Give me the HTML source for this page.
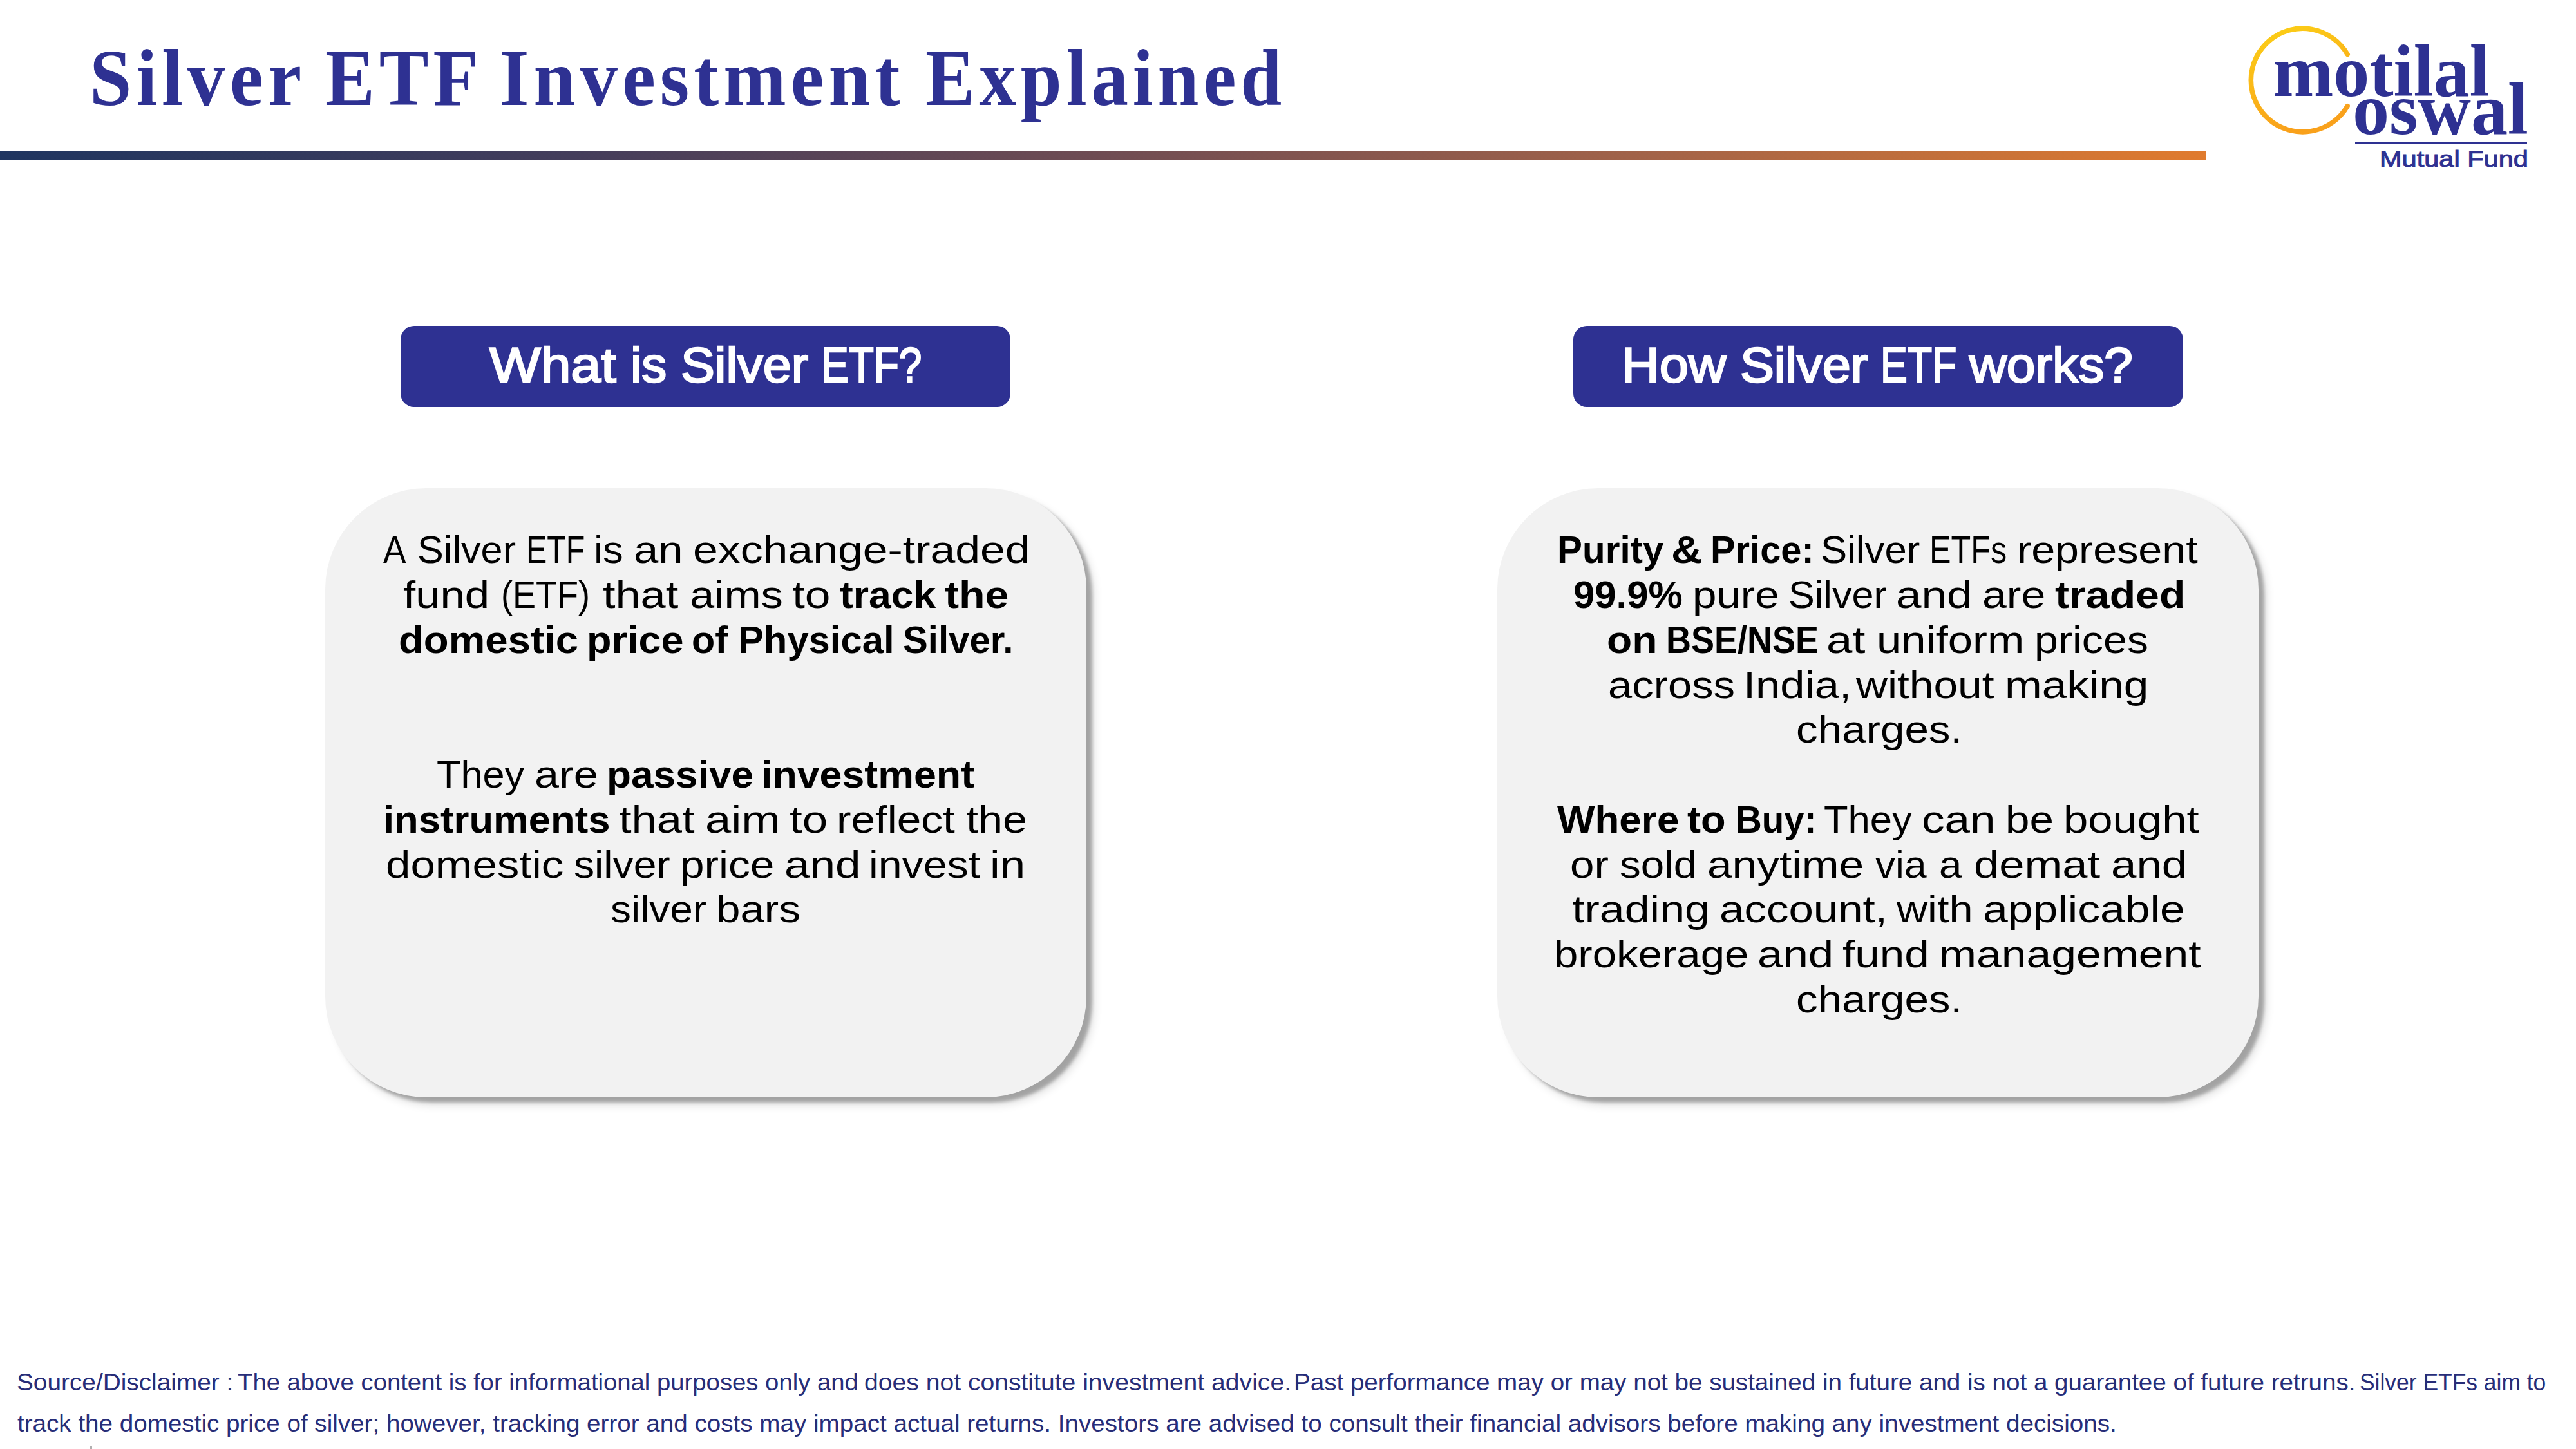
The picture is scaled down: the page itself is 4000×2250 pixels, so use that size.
<!DOCTYPE html>
<html lang="en"><head><meta charset="utf-8"><title>Silver ETF Investment Explained</title>
<style>
html,body{margin:0;padding:0;background:#fff}
h1,h2,p,header,main,section,footer{margin:0;padding:0;font:inherit}
body{width:4000px;height:2250px;position:relative;overflow:hidden;font-family:"Liberation Sans",sans-serif;color:#000}
.t{position:absolute;margin:0;padding:0;white-space:nowrap;transform-origin:0 0;font-weight:400}
.body{font-size:60px;line-height:72px;letter-spacing:0px}
.bbody{font-size:60px;line-height:72px;letter-spacing:0px}
.pill{font-size:76.5px;line-height:92px;letter-spacing:0px}
.title{font-size:125px;line-height:150px;letter-spacing:7.5px}
.foot{font-size:36.5px;line-height:44px;letter-spacing:0px}
.logo{font-size:114px;line-height:137px;letter-spacing:0px}
.mf{font-size:35.5px;line-height:43px;letter-spacing:0px}
.bbody{font-weight:700}
.pill{color:#fff;-webkit-text-stroke:2.4px #fff}
.title{font-family:"Liberation Serif",serif;font-weight:700;color:#2e3192}
.foot{color:#272d78}
.logo{font-family:"Liberation Serif",serif;font-weight:700;color:#2e3192}
.mf{color:#2e3192;-webkit-text-stroke:1px #2e3192}
.rule{position:absolute;left:0;top:235px;width:3425px;height:14px;background:linear-gradient(90deg,rgb(31,53,96) 0%,rgb(68,61,91) 26%,rgb(111,76,83) 50%,rgb(163,99,72) 75%,rgb(224,123,46) 100%)}
.pillbox{position:absolute;top:505.6px;height:126px;width:947px;border-radius:21px;background:#2e3192}
.card{position:absolute;top:758px;height:946px;width:1182px;border-radius:157px;background:#f2f2f2;box-shadow:9px 8px 5px rgba(0,0,0,.27),12px 12px 14px rgba(0,0,0,.13)}
.mfline{position:absolute;left:3656.8px;top:219.9px;width:267.2px;height:3.7px;background:#2e3192}
svg.ring{position:absolute;left:0;top:0}
</style></head><body>
<div class="rule"></div>
<svg class="ring" width="4000" height="300" viewBox="0 0 4000 300"><defs><linearGradient id="g" x1="0" y1="0" x2="0.35" y2="1"><stop offset="0" stop-color="#fcd116"/><stop offset="1" stop-color="#f9a11b"/></linearGradient></defs><path d="M3645.14 84.35 A80.3 80.3 0 1 0 3645.14 164.65" fill="none" stroke="url(#g)" stroke-width="7.6" stroke-linecap="round"/></svg>
<div class="mfline"></div>
<div style="position:absolute;left:140px;top:2246px;width:3px;height:4px;background:#b0b0b0"></div>
<div class="pillbox" style="left:622.4px"></div>
<div class="pillbox" style="left:2442.6px"></div>
<div class="card" style="left:505px"></div>
<div class="card" style="left:2325px"></div>
<header>
<h1>
<span class="t title" id="t1" style="left:139.00px;top:46.31px;transform:scaleX(0.9403)">Silver</span>
<span class="t title" id="t2" style="left:505.00px;top:46.31px;transform:scaleX(0.9220)">ETF</span>
<span class="t title" id="t3" style="left:776.00px;top:46.31px;transform:scaleX(0.9348)">Investment</span>
<span class="t title" id="t4" style="left:1437.00px;top:46.31px;transform:scaleX(0.9191)">Explained</span>
</h1>
<div class="brand">
<span class="t logo" id="lg1" style="left:3529.60px;top:42.22px;transform:scaleX(0.9826)">motilal</span>
<span class="t logo" id="lg2" style="left:3653.30px;top:100.72px;transform:scaleX(1.0016)">oswal</span>
<span class="t mf" id="lg3" style="left:3694.60px;top:226.10px;transform:scaleX(1.1702)">Mutual Fund</span>
</div>
</header>
<main>
<section>
<h2>
<span class="t pill" id="p1a" style="left:760.10px;top:520.69px;transform:scaleX(1.1012)">What</span>
<span class="t pill" id="p1b" style="left:978.50px;top:520.69px;transform:scaleX(1.0208)">is</span>
<span class="t pill" id="p1c" style="left:1056.70px;top:520.69px;transform:scaleX(1.0358)">Silver</span>
<span class="t pill" id="p1d" style="left:1274.80px;top:520.69px;transform:scaleX(0.8365)">ETF?</span>
</h2>
<p>
<span class="t body" id="c1l0w0" style="left:594.70px;top:818.41px;transform:scaleX(0.8856)">A</span>
<span class="t body" id="c1l0w1" style="left:648.30px;top:818.41px;transform:scaleX(1.0200)">Silver</span>
<span class="t body" id="c1l0w2" style="left:816.70px;top:818.41px;transform:scaleX(0.8064)">ETF</span>
<span class="t body" id="c1l0w3" style="left:922.30px;top:818.41px;transform:scaleX(1.0561)">is</span>
<span class="t body" id="c1l0w4" style="left:983.90px;top:818.41px;transform:scaleX(1.1469)">an</span>
<span class="t body" id="c1l0w5" style="left:1076.30px;top:818.41px;transform:scaleX(1.1627)">exchange-traded</span>
<span class="t body" id="c1l1w0" style="left:625.50px;top:888.16px;transform:scaleX(1.1473)">fund</span>
<span class="t body" id="c1l1w1" style="left:778.10px;top:888.16px;transform:scaleX(0.9001)">(ETF)</span>
<span class="t body" id="c1l1w2" style="left:935.80px;top:888.16px;transform:scaleX(1.1715)">that</span>
<span class="t body" id="c1l1w3" style="left:1070.50px;top:888.16px;transform:scaleX(1.1438)">aims</span>
<span class="t body" id="c1l1w4" style="left:1230.30px;top:888.16px;transform:scaleX(1.1909)">to</span>
<span class="t bbody" id="c1l1w5" style="left:1304.10px;top:888.16px;transform:scaleX(1.0402)">track</span>
<span class="t bbody" id="c1l1w6" style="left:1466.60px;top:888.16px;transform:scaleX(1.1051)">the</span>
<span class="t bbody" id="c1l2w0" style="left:619.30px;top:957.91px;transform:scaleX(1.0595)">domestic</span>
<span class="t bbody" id="c1l2w1" style="left:911.00px;top:957.91px;transform:scaleX(1.0498)">price</span>
<span class="t bbody" id="c1l2w2" style="left:1074.00px;top:957.91px;transform:scaleX(0.9876)">of</span>
<span class="t bbody" id="c1l2w3" style="left:1145.70px;top:957.91px;transform:scaleX(0.9962)">Physical</span>
<span class="t bbody" id="c1l2w4" style="left:1401.60px;top:957.91px;transform:scaleX(0.9690)">Silver.</span>
</p>
<p>
<span class="t body" id="c1l5w0" style="left:678.00px;top:1167.16px;transform:scaleX(1.0204)">They</span>
<span class="t body" id="c1l5w1" style="left:830.40px;top:1167.16px;transform:scaleX(1.1391)">are</span>
<span class="t bbody" id="c1l5w2" style="left:941.60px;top:1167.16px;transform:scaleX(1.0356)">passive</span>
<span class="t bbody" id="c1l5w3" style="left:1181.60px;top:1167.16px;transform:scaleX(1.0451)">investment</span>
<span class="t bbody" id="c1l6w0" style="left:594.80px;top:1236.91px;transform:scaleX(1.0263)">instruments</span>
<span class="t body" id="c1l6w1" style="left:961.00px;top:1236.91px;transform:scaleX(1.1757)">that</span>
<span class="t body" id="c1l6w2" style="left:1095.10px;top:1236.91px;transform:scaleX(1.2070)">aim</span>
<span class="t body" id="c1l6w3" style="left:1225.90px;top:1236.91px;transform:scaleX(1.1815)">to</span>
<span class="t body" id="c1l6w4" style="left:1299.40px;top:1236.91px;transform:scaleX(1.1254)">reflect</span>
<span class="t body" id="c1l6w5" style="left:1500.10px;top:1236.91px;transform:scaleX(1.1398)">the</span>
<span class="t body" id="c1l7w0" style="left:599.00px;top:1306.66px;transform:scaleX(1.1513)">domestic</span>
<span class="t body" id="c1l7w1" style="left:890.80px;top:1306.66px;transform:scaleX(1.0693)">silver</span>
<span class="t body" id="c1l7w2" style="left:1055.70px;top:1306.66px;transform:scaleX(1.1246)">price</span>
<span class="t body" id="c1l7w3" style="left:1218.00px;top:1306.66px;transform:scaleX(1.1853)">and</span>
<span class="t body" id="c1l7w4" style="left:1348.70px;top:1306.66px;transform:scaleX(1.1043)">invest</span>
<span class="t body" id="c1l7w5" style="left:1537.40px;top:1306.66px;transform:scaleX(1.1799)">in</span>
<span class="t body" id="c1l8w0" style="left:948.00px;top:1376.41px;transform:scaleX(1.0648)">silver</span>
<span class="t body" id="c1l8w1" style="left:1112.20px;top:1376.41px;transform:scaleX(1.1213)">bars</span>
</p>
</section>
<section>
<h2>
<span class="t pill" id="p2a" style="left:2517.70px;top:520.69px;transform:scaleX(1.0614)">How</span>
<span class="t pill" id="p2b" style="left:2702.20px;top:520.69px;transform:scaleX(1.0358)">Silver</span>
<span class="t pill" id="p2c" style="left:2919.70px;top:520.69px;transform:scaleX(0.8191)">ETF</span>
<span class="t pill" id="p2d" style="left:3058.10px;top:520.69px;transform:scaleX(1.0475)">works?</span>
</h2>
<p>
<span class="t bbody" id="c2l0w0" style="left:2418.00px;top:818.41px;transform:scaleX(0.9737)">Purity</span>
<span class="t bbody" id="c2l0w1" style="left:2594.50px;top:818.41px;transform:scaleX(1.1155)">&amp;</span>
<span class="t bbody" id="c2l0w2" style="left:2655.50px;top:818.41px;transform:scaleX(0.9637)">Price:</span>
<span class="t body" id="c2l0w3" style="left:2826.60px;top:818.41px;transform:scaleX(1.0284)">Silver</span>
<span class="t body" id="c2l0w4" style="left:2995.70px;top:818.41px;transform:scaleX(0.8379)">ETFs</span>
<span class="t body" id="c2l0w5" style="left:3132.10px;top:818.41px;transform:scaleX(1.1076)">represent</span>
<span class="t bbody" id="c2l1w0" style="left:2442.80px;top:888.16px;transform:scaleX(0.9982)">99.9%</span>
<span class="t body" id="c2l1w1" style="left:2627.90px;top:888.16px;transform:scaleX(1.1217)">pure</span>
<span class="t body" id="c2l1w2" style="left:2776.50px;top:888.16px;transform:scaleX(1.0185)">Silver</span>
<span class="t body" id="c2l1w3" style="left:2944.00px;top:888.16px;transform:scaleX(1.1830)">and</span>
<span class="t body" id="c2l1w4" style="left:3077.80px;top:888.16px;transform:scaleX(1.1317)">are</span>
<span class="t bbody" id="c2l1w5" style="left:3191.30px;top:888.16px;transform:scaleX(1.1035)">traded</span>
<span class="t bbody" id="c2l2w0" style="left:2494.70px;top:957.91px;transform:scaleX(1.0685)">on</span>
<span class="t bbody" id="c2l2w1" style="left:2586.80px;top:957.91px;transform:scaleX(0.9001)">BSE/NSE</span>
<span class="t body" id="c2l2w2" style="left:2836.40px;top:957.91px;transform:scaleX(1.2080)">at</span>
<span class="t body" id="c2l2w3" style="left:2913.50px;top:957.91px;transform:scaleX(1.1454)">uniform</span>
<span class="t body" id="c2l2w4" style="left:3158.50px;top:957.91px;transform:scaleX(1.1055)">prices</span>
<span class="t body" id="c2l3w0" style="left:2497.40px;top:1027.66px;transform:scaleX(1.1148)">across</span>
<span class="t body" id="c2l3w1" style="left:2706.80px;top:1027.66px;transform:scaleX(1.1448)">India,</span>
<span class="t body" id="c2l3w2" style="left:2882.40px;top:1027.66px;transform:scaleX(1.1289)">without</span>
<span class="t body" id="c2l3w3" style="left:3112.70px;top:1027.66px;transform:scaleX(1.1549)">making</span>
<span class="t body" id="c2l4w0" style="left:2789.00px;top:1097.41px;transform:scaleX(1.1219)">charges.</span>
</p>
<p>
<span class="t bbody" id="c2l6w0" style="left:2417.60px;top:1236.91px;transform:scaleX(1.0327)">Where</span>
<span class="t bbody" id="c2l6w1" style="left:2620.40px;top:1236.91px;transform:scaleX(1.0523)">to</span>
<span class="t bbody" id="c2l6w2" style="left:2694.90px;top:1236.91px;transform:scaleX(0.9414)">Buy:</span>
<span class="t body" id="c2l6w3" style="left:2831.50px;top:1236.91px;transform:scaleX(1.0264)">They</span>
<span class="t body" id="c2l6w4" style="left:2983.80px;top:1236.91px;transform:scaleX(1.1845)">can</span>
<span class="t body" id="c2l6w5" style="left:3113.50px;top:1236.91px;transform:scaleX(1.1212)">be</span>
<span class="t body" id="c2l6w6" style="left:3204.40px;top:1236.91px;transform:scaleX(1.1475)">bought</span>
<span class="t body" id="c2l7w0" style="left:2438.30px;top:1306.66px;transform:scaleX(1.1222)">or</span>
<span class="t body" id="c2l7w1" style="left:2515.00px;top:1306.66px;transform:scaleX(1.0917)">sold</span>
<span class="t body" id="c2l7w2" style="left:2650.90px;top:1306.66px;transform:scaleX(1.1570)">anytime</span>
<span class="t body" id="c2l7w3" style="left:2912.00px;top:1306.66px;transform:scaleX(1.0367)">via</span>
<span class="t body" id="c2l7w4" style="left:3010.90px;top:1306.66px;transform:scaleX(1.0620)">a</span>
<span class="t body" id="c2l7w5" style="left:3065.20px;top:1306.66px;transform:scaleX(1.1752)">demat</span>
<span class="t body" id="c2l7w6" style="left:3278.00px;top:1306.66px;transform:scaleX(1.1812)">and</span>
<span class="t body" id="c2l8w0" style="left:2441.30px;top:1376.41px;transform:scaleX(1.1664)">trading</span>
<span class="t body" id="c2l8w1" style="left:2670.20px;top:1376.41px;transform:scaleX(1.1506)">account,</span>
<span class="t body" id="c2l8w2" style="left:2945.30px;top:1376.41px;transform:scaleX(1.1100)">with</span>
<span class="t body" id="c2l8w3" style="left:3078.60px;top:1376.41px;transform:scaleX(1.1609)">applicable</span>
<span class="t body" id="c2l9w0" style="left:2413.40px;top:1446.16px;transform:scaleX(1.1189)">brokerage</span>
<span class="t body" id="c2l9w1" style="left:2729.10px;top:1446.16px;transform:scaleX(1.1812)">and</span>
<span class="t body" id="c2l9w2" style="left:2861.10px;top:1446.16px;transform:scaleX(1.1547)">fund</span>
<span class="t body" id="c2l9w3" style="left:3010.60px;top:1446.16px;transform:scaleX(1.1613)">management</span>
<span class="t body" id="c2l10w0" style="left:2789.00px;top:1515.91px;transform:scaleX(1.1219)">charges.</span>
</p>
</section>
</main>
<footer>
<p>
<span class="t foot" id="f1a" style="left:25.90px;top:2125.15px;transform:scaleX(1.0626)">Source/Disclaimer :</span>
<span class="t foot" id="f1b" style="left:368.80px;top:2125.15px;transform:scaleX(1.0486)">The above content is for informational purposes only and</span>
<span class="t foot" id="f1c" style="left:1341.50px;top:2125.15px;transform:scaleX(1.0714)">does not constitute investment advice.</span>
<span class="t foot" id="f1d" style="left:2009.00px;top:2125.15px;transform:scaleX(1.0565)">Past performance may or may not be sustained in future and is not a guarantee of future retruns.</span>
<span class="t foot" id="f1e" style="left:3663.60px;top:2125.15px;transform:scaleX(0.9703)">Silver ETFs aim to</span>
<span class="t foot" id="f2" style="left:27.10px;top:2189.35px;transform:scaleX(1.0578)">track the domestic price of silver; however, tracking error and costs may impact actual returns. Investors are advised to consult their financial advisors before making any investment decisions.</span>
</p>
</footer>
</body></html>
